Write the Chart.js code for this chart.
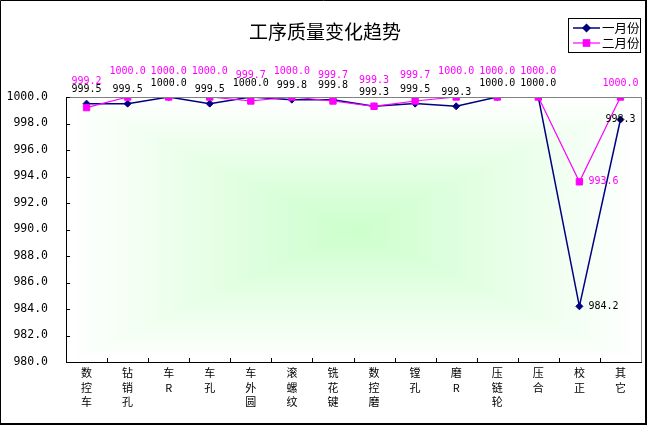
<!DOCTYPE html>
<html>
<head>
<meta charset="utf-8">
<script src="https://cdn.jsdelivr.net/npm/chart.js@4.4.1/dist/chart.umd.min.js"></script>
<style>
html,body{margin:0;padding:0;background:#fff;}
canvas{display:block;}
</style>
</head>
<body>
<canvas id="c" width="648" height="426"></canvas>
<script>
const categories = ['数控车','钻销孔','车R','车孔','车外圆','滚螺纹','铣花键','数控磨','镗孔','磨R','压链轮','压合','校正','其它'];
const janValues = [999.5, 999.5, 1000.0, 999.5, 1000.0, 999.8, 999.8, 999.3, 999.5, 999.3, 1000.0, 1000.0, 984.2, 998.3];
const febValues = [999.2, 1000.0, 1000.0, 1000.0, 999.7, 1000.0, 999.7, 999.3, 999.7, 1000.0, 1000.0, 1000.0, 993.6, 1000.0];
const yTicks = [980, 982, 984, 986, 988, 990, 992, 994, 996, 998, 1000];
const seriesNames = ['一月份', '二月份'];
const titleText = '工序质量变化趋势';
// label placement styles (not data)
const janLabelPos = ['top','top','top','top','top','top','top','top','top','top','top','top','right','center'];
const febLabelPos = ['top2','top2','top2','top2','top2','top2','top2','top2','top2','top2','top2','top2','right','top'];

const NAVY = '#000080', MAG = '#ff00ff';
const MONO = '"DejaVu Sans Mono", "Liberation Mono", monospace';
const CJK = '"Noto Sans CJK SC", sans-serif';

const decor = {
  id: 'decor',
  beforeDraw(chart) {
    const ctx = chart.ctx, a = chart.chartArea;
    ctx.save();
    ctx.fillStyle = '#fff';
    ctx.fillRect(0, 0, chart.width, chart.height);
    const cx = (a.left + a.right) / 2, cy = (a.top + a.bottom) / 2;
    const hw = (a.right - a.left) / 2, hh = (a.bottom - a.top) / 2;
    const N = 80;
    for (let i = 0; i < N; i++) {
      const t = i / N;
      const r = Math.round(255 - 51 * t), b = r;
      ctx.fillStyle = `rgb(${r},255,${b})`;
      const w = hw * (1 - t), h = hh * (1 - t);
      ctx.fillRect(cx - w, cy - h, 2 * w, 2 * h);
    }
    ctx.restore();
  },
  afterDatasetsDraw(chart) {
    const ctx = chart.ctx;
    ctx.save();
    ctx.font = '10px ' + MONO;
    const sets = [[0, janLabelPos, '#000'], [1, febLabelPos, MAG]];
    sets.forEach(([di, pos, col]) => {
      const meta = chart.getDatasetMeta(di);
      const vals = chart.data.datasets[di].data;
      ctx.fillStyle = col;
      meta.data.forEach((pt, i) => {
        const txt = vals[i].toFixed(1);
        const p = pos[i];
        let x = pt.x, y = pt.y;
        ctx.textBaseline = 'middle';
        if (p === 'right') { ctx.textAlign = 'left'; x += 9; }
        else if (p === 'center') { ctx.textAlign = 'center'; }
        else if (p === 'top') { ctx.textAlign = 'center'; y -= 14; }
        else { ctx.textAlign = 'center'; y -= 26; }
        ctx.fillText(txt, x, y);
      });
    });
    ctx.restore();
  },
  afterDraw(chart) {
    const ctx = chart.ctx, a = chart.chartArea;
    const xs = chart.scales.x, ys = chart.scales.y;
    ctx.save();
    // top & right gray border
    ctx.strokeStyle = '#808080';
    ctx.lineWidth = 1;
    ctx.beginPath();
    ctx.moveTo(a.left, a.top + 0.5); ctx.lineTo(a.right + 0.5, a.top + 0.5);
    ctx.lineTo(a.right + 0.5, a.bottom);
    ctx.stroke();
    // inside ticks
    ctx.strokeStyle = '#000';
    ctx.beginPath();
    yTicks.forEach(v => {
      const y = Math.round(ys.getPixelForValue(v)) + 0.5;
      ctx.moveTo(a.left, y); ctx.lineTo(a.left + 4, y);
    });
    for (let i = 0; i < categories.length - 1; i++) {
      const x = Math.round((xs.getPixelForValue(i) + xs.getPixelForValue(i + 1)) / 2) + 0.5;
      ctx.moveTo(x, a.bottom); ctx.lineTo(x, a.bottom - 4);
    }
    ctx.stroke();
    // title
    ctx.fillStyle = '#000';
    ctx.font = '19px ' + CJK;
    ctx.textAlign = 'center';
    ctx.textBaseline = 'middle';
    ctx.fillText(titleText, 325, 32);
    // legend
    ctx.fillStyle = '#fff';
    ctx.fillRect(568, 18, 72, 34);
    ctx.strokeStyle = '#000';
    ctx.lineWidth = 1;
    ctx.strokeRect(568.5, 18.5, 72, 34);
    const entries = [[NAVY, 'rectRot', 28, 1.5, 3.5], [MAG, 'rect', 43, 1.2, 4.5]];
    entries.forEach(([c, st, y, lw, r], i) => {
      ctx.strokeStyle = c; ctx.lineWidth = lw;
      ctx.beginPath(); ctx.moveTo(573, y); ctx.lineTo(600, y); ctx.stroke();
      Chart.helpers.drawPoint(ctx, {pointStyle: st, radius: r, borderWidth: 1}, 586.5, y);
      ctx.fillStyle = c;
      ctx.strokeStyle = c;
      ctx.fill();
      ctx.fillStyle = '#000';
      ctx.font = '12.5px ' + CJK;
      ctx.textAlign = 'left';
      ctx.textBaseline = 'middle';
      ctx.fillText(seriesNames[i], 602, y);
    });
    // outer frame
    ctx.strokeStyle = '#000';
    ctx.lineWidth = 1;
    ctx.beginPath();
    ctx.moveTo(0.5, 425); ctx.lineTo(0.5, 0.5); ctx.lineTo(647, 0.5);
    ctx.stroke();
    ctx.lineWidth = 2;
    ctx.beginPath();
    ctx.moveTo(646, 0); ctx.lineTo(646, 424); ctx.lineTo(0, 424);
    ctx.stroke();
    ctx.restore();
  }
};

new Chart(document.getElementById('c'), {
  type: 'line',
  data: {
    labels: categories.map(s => Array.from(s)),
    datasets: [
      { label: seriesNames[0], data: janValues, borderColor: NAVY, backgroundColor: NAVY, order: 1,
        borderWidth: 1.5, pointStyle: 'rectRot', pointRadius: 3.5, pointBorderWidth: 1,
        pointBackgroundColor: NAVY, pointBorderColor: NAVY, tension: 0, fill: false },
      { label: seriesNames[1], data: febValues, borderColor: MAG, backgroundColor: MAG, order: 0,
        borderWidth: 1.2, pointStyle: 'rect', pointRadius: 4.5, pointBorderWidth: 1,
        pointBackgroundColor: MAG, pointBorderColor: MAG, tension: 0, fill: false }
    ]
  },
  options: {
    responsive: false,
    animation: false,
    devicePixelRatio: 1,
    layout: { padding: { left: 0, right: 7, top: 97, bottom: 0 } },
    plugins: { legend: { display: false }, title: { display: false }, tooltip: { enabled: false } },
    scales: {
      x: {
        type: 'category',
        offset: true,
        grid: { display: false, drawTicks: false },
        border: { display: true, color: '#000', width: 1 },
        ticks: { color: '#000', font: { family: CJK, size: 11, lineHeight: 1.3 }, padding: 4, maxRotation: 0, autoSkip: false },
        afterFit(s) { s.height = 64; }
      },
      y: {
        min: 980, max: 1000,
        grid: { display: false, drawTicks: false },
        border: { display: true, color: '#000', width: 1 },
        ticks: { stepSize: 2, color: '#000', font: { family: MONO, size: 11.5 }, padding: 18,
                 callback: v => Number(v).toFixed(1) },
        afterFit(s) { s.width = 66; }
      }
    }
  },
  plugins: [decor]
});
</script>
</body>
</html>
